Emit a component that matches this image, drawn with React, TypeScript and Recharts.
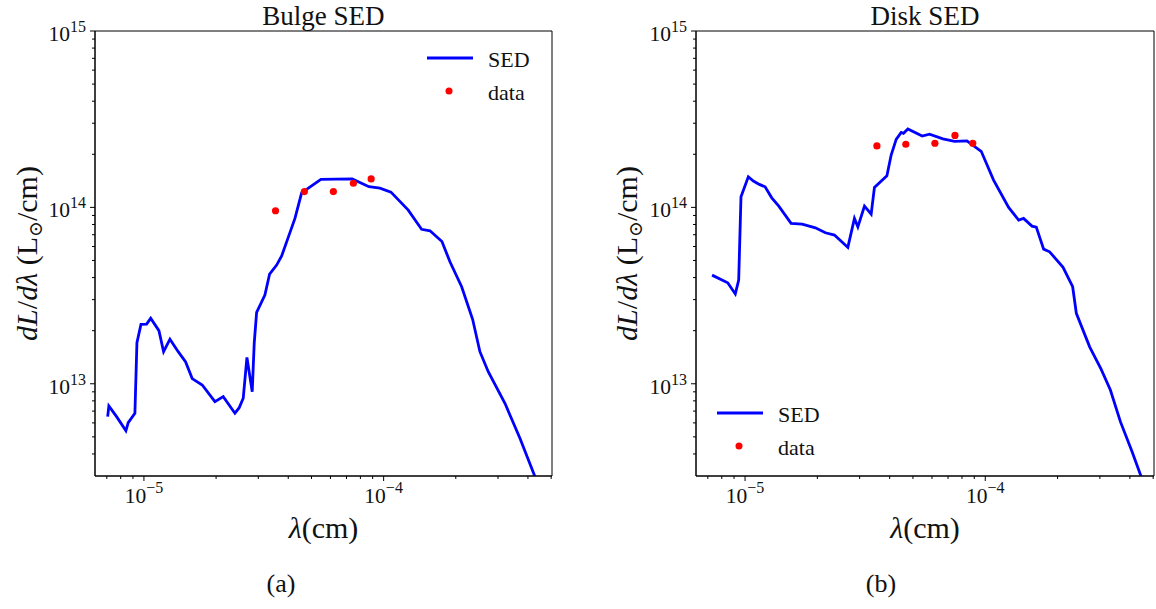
import React from 'react';
import { ComposedChart, Line, Scatter, XAxis, YAxis, ReferenceArea, Legend, Label } from 'recharts';

const FONT = '"Liberation Serif", "DejaVu Serif", serif';
const H = 609;

// wavelength (cm) and dL/dlambda (Lsun/cm)
const bulgeLambda = [
  7.06e-6, 7.14e-6, 7.69e-6, 8.41e-6, 8.6e-6, 9.17e-6, 9.35e-6, 9.72e-6, 1.026e-5, 1.067e-5,
  1.155e-5, 1.208e-5, 1.284e-5, 1.39e-5, 1.493e-5, 1.59e-5, 1.751e-5, 1.978e-5, 2.142e-5, 2.397e-5,
  2.498e-5, 2.596e-5, 2.69e-5, 2.83e-5, 2.885e-5, 2.952e-5, 3.196e-5, 3.344e-5, 3.578e-5, 3.754e-5,
  4.0e-5, 4.266e-5, 4.549e-5, 5.474e-5, 7.396e-5, 8.684e-5, 9.65e-5, 1.073e-4, 1.267e-4, 1.44e-4,
  1.561e-4, 1.751e-4, 1.891e-4, 2.116e-4, 2.351e-4, 2.522e-4, 2.732e-4, 3.207e-4, 3.704e-4, 4.277e-4,
];
const bulgeSed = [
  6.51e12, 7.48e12, 6.51e12, 5.42e12, 6.02e12, 6.81e12, 1.71e13, 2.17e13, 2.18e13, 2.35e13,
  2.0e13, 1.52e13, 1.79e13, 1.52e13, 1.33e13, 1.07e13, 9.84e12, 7.92e12, 8.45e12, 6.81e12,
  7.32e12, 8.28e12, 1.41e13, 9.02e12, 1.7e13, 2.54e13, 3.18e13, 4.19e13, 4.71e13, 5.3e13,
  6.76e13, 8.66e13, 1.21e14, 1.44e14, 1.45e14, 1.31e14, 1.286e14, 1.22e14, 9.65e13, 7.51e13,
  7.37e13, 6.4e13, 4.92e13, 3.55e13, 2.32e13, 1.52e13, 1.17e13, 7.75e12, 4.91e12, 2.98e12,
];

const diskLambda = [
  7.29e-6, 8.47e-6, 9.11e-6, 9.41e-6, 9.62e-6, 1.032e-5, 1.083e-5, 1.147e-5, 1.212e-5, 1.292e-5,
  1.382e-5, 1.555e-5, 1.728e-5, 1.963e-5, 2.161e-5, 2.356e-5, 2.554e-5, 2.679e-5, 2.854e-5, 2.949e-5,
  3.142e-5, 3.35e-5, 3.457e-5, 3.895e-5, 4.058e-5, 4.258e-5, 4.467e-5, 4.567e-5, 4.763e-5, 5.463e-5,
  5.86e-5, 6.665e-5, 7.45e-5, 8.39e-5, 9.62e-5, 1.083e-4, 1.251e-4, 1.377e-4, 1.444e-4, 1.565e-4,
  1.631e-4, 1.75e-4, 1.853e-4, 2.108e-4, 2.311e-4, 2.394e-4, 2.72e-4, 3.035e-4, 3.318e-4, 3.652e-4,
  4.086e-4, 4.454e-4,
];
const diskSed = [
  4.13e13, 3.74e13, 3.23e13, 3.87e13, 1.148e14, 1.491e14, 1.41e14, 1.35e14, 1.308e14, 1.133e14,
  1.017e14, 8.12e13, 8.04e13, 7.66e13, 7.18e13, 6.97e13, 6.3e13, 5.93e13, 8.66e13, 7.76e13,
  1.017e14, 9.16e13, 1.298e14, 1.51e14, 1.98e14, 2.43e14, 2.66e14, 2.63e14, 2.78e14, 2.535e14,
  2.6e14, 2.448e14, 2.366e14, 2.385e14, 2.08e14, 1.428e14, 1.0e14, 8.48e13, 8.66e13, 7.83e13,
  7.73e13, 5.8e13, 5.6e13, 4.57e13, 3.55e13, 2.51e13, 1.62e13, 1.21e13, 9.22e12, 6.1e12,
  4.12e12, 2.98e12,
];

// photometric points
const photLambda = [3.54e-5, 4.67e-5, 6.17e-5, 7.48e-5, 8.87e-5];
const bulgePhot = [9.57e13, 1.23e14, 1.23e14, 1.37e14, 1.45e14];
const diskPhot = [2.23e14, 2.28e14, 2.31e14, 2.56e14, 2.31e14];

const X_DOMAIN = [6.25e-6, 5.04e-4];
const Y_DOMAIN = [3e12, 1e15];

const xTicks = [
  7e-6, 8e-6, 9e-6, 1e-5, 2e-5, 3e-5, 4e-5, 5e-5, 6e-5, 7e-5, 8e-5, 9e-5,
  1e-4, 2e-4, 3e-4, 4e-4, 5e-4,
];
const yTicks = [
  4e12, 5e12, 6e12, 7e12, 8e12, 9e12, 1e13, 2e13, 3e13, 4e13, 5e13, 6e13, 7e13, 8e13, 9e13,
  1e14, 2e14, 3e14, 4e14, 5e14, 6e14, 7e14, 8e14, 9e14, 1e15,
];

const decade = (v: number) => Math.round(Math.log10(v));
const isMajor = (v: number) => Math.abs(v / Math.pow(10, decade(v)) - 1) < 1e-6;
const fmtExp = (n: number) => (n < 0 ? '\u2212' + Math.abs(n) : String(n));

const XTick = ({ x, y, payload }: any) => {
  const v = payload.value;
  const major = isMajor(v);
  return (
    <g>
      <line x1={x} x2={x} y1={y} y2={y + (major ? 5 : 3)} stroke="#000" strokeWidth={1} />
      {major && (
        <text x={x} y={y + 27} textAnchor="middle" fontFamily={FONT} fontSize={21.5} fill="#111">
          <tspan>10</tspan>
          <tspan dy={-10} fontSize={16}>{fmtExp(decade(v))}</tspan>
        </text>
      )}
    </g>
  );
};

const YTick = ({ x, y, payload }: any) => {
  const v = payload.value;
  const major = isMajor(v);
  return (
    <g>
      <line x1={x} x2={x - (major ? 5 : 3)} y1={y} y2={y} stroke="#000" strokeWidth={1} />
      {major && (
        <text x={x - 9} y={y + 10} textAnchor="end" fontFamily={FONT} fontSize={21.5} fill="#111">
          <tspan>10</tspan>
          <tspan dy={-9} fontSize={16}>{fmtExp(decade(v))}</tspan>
        </text>
      )}
    </g>
  );
};

const XLabel = ({ viewBox }: any) => {
  const { x, y, width } = viewBox;
  return (
    <text x={x + width / 2} y={y + 62} textAnchor="middle" fontFamily={FONT} fontSize={30} fill="#111">
      <tspan fontStyle="italic">λ</tspan>
      <tspan>(cm)</tspan>
    </text>
  );
};

const YLabel = ({ viewBox }: any) => {
  const { x, y, height } = viewBox;
  const cx = x + 37;
  const cy = y + height / 2;
  return (
    <text
      x={cx}
      y={cy}
      transform={`rotate(-90, ${cx}, ${cy})`}
      textAnchor="middle"
      fontFamily={FONT}
      fontSize={30}
      fill="#111"
    >
      <tspan fontStyle="italic">dL</tspan>
      <tspan>/</tspan>
      <tspan fontStyle="italic">dλ</tspan>
      <tspan> (L</tspan>
      <tspan dy={5} fontSize={19}>⊙</tspan>
      <tspan dy={-5}>/cm)</tspan>
    </text>
  );
};

const LegendBox = ({ payload }: any) => (
  <svg width={130} height={70} style={{ display: 'block' }}>
    {(payload || []).map((entry: any, i: number) => {
      const cy = 18 + i * 33;
      return (
        <g key={entry.value}>
          {entry.type === 'line' ? (
            <line x1={7} x2={53} y1={cy} y2={cy} stroke="#0000ff" strokeWidth={2.8} />
          ) : (
            <circle cx={29} cy={cy} r={3.5} fill="#ff0000" />
          )}
          <text x={68} y={cy + 8.5} fontFamily={FONT} fontSize={22} fill="#111">
            {entry.value}
          </text>
        </g>
      );
    })}
  </svg>
);

const Dot = (p: any) => <circle cx={p.cx} cy={p.cy} r={3.6} fill="#ff0000" />;

interface PanelProps {
  left: number;
  width: number;
  yWidth: number;
  right: number;
  title: string;
  caption: string;
  lambda: number[];
  sed: number[];
  phot: number[];
  legendLeft: number;
  legendTop: number;
}

const Panel: React.FC<PanelProps> = ({
  left, width, yWidth, right, title, caption, lambda, sed, phot, legendLeft, legendTop,
}) => {
  const sedRows = lambda.map((x, i) => ({ x, y: sed[i] }));
  const photRows = photLambda.map((x, i) => ({ x, y: phot[i] }));
  const center = (yWidth + width - right) / 2;
  return (
    <div style={{ position: 'absolute', left, top: 0, width, height: H }}>
      <ComposedChart width={width} height={H} margin={{ top: 31, right, bottom: 0, left: 0 }}>
        <XAxis
          dataKey="x"
          type="number"
          scale="log"
          domain={X_DOMAIN}
          allowDataOverflow
          ticks={xTicks}
          interval={0}
          tick={<XTick />}
          tickLine={false}
          tickSize={0}
          tickMargin={0}
          height={133}
          axisLine={{ stroke: '#000', strokeWidth: 1 }}
        >
          <Label content={<XLabel />} />
        </XAxis>
        <YAxis
          type="number"
          scale="log"
          domain={Y_DOMAIN}
          allowDataOverflow
          ticks={yTicks}
          interval={0}
          tick={<YTick />}
          tickLine={false}
          tickSize={0}
          tickMargin={0}
          width={yWidth}
          axisLine={{ stroke: '#000', strokeWidth: 1 }}
        >
          <Label content={<YLabel />} />
        </YAxis>
        <ReferenceArea
          x1={X_DOMAIN[0]}
          x2={X_DOMAIN[1]}
          y1={Y_DOMAIN[0]}
          y2={Y_DOMAIN[1]}
          fill="none"
          stroke="#000"
          strokeWidth={1}
          ifOverflow="visible"
        />
        <Line
          data={sedRows}
          dataKey="y"
          name="SED"
          type="linear"
          stroke="#0000ff"
          strokeWidth={2.8}
          dot={false}
          legendType="line"
          isAnimationActive={false}
        />
        <Scatter
          data={photRows}
          dataKey="y"
          name="data"
          shape={Dot}
          legendType="circle"
          isAnimationActive={false}
        />
        <Legend
          layout="vertical"
          align="center"
          verticalAlign="middle"
          content={<LegendBox />}
          wrapperStyle={{ left: legendLeft, top: legendTop, width: 130, height: 70 }}
        />
      </ComposedChart>
      <svg
        width={width}
        height={H}
        style={{ position: 'absolute', left: 0, top: 0, pointerEvents: 'none' }}
      >
        <text x={center} y={24.5} textAnchor="middle" fontFamily={FONT} fontSize={27} fill="#111">
          {title}
        </text>
        <text x={281} y={592} textAnchor="middle" fontFamily={FONT} fontSize={26} fill="#111">
          {caption}
        </text>
      </svg>
    </div>
  );
};

export default function App() {
  return (
    <div style={{ position: 'absolute', left: 0, top: 0, width: 1156, height: H, background: '#fff' }}>
      <Panel
        left={0}
        width={578}
        yWidth={95}
        right={26}
        title="Bulge SED"
        caption="(a)"
        lambda={bulgeLambda}
        sed={bulgeSed}
        phot={bulgePhot}
        legendLeft={420}
        legendTop={40}
      />
      <Panel
        left={600}
        width={556}
        yWidth={96}
        right={2}
        title="Disk SED"
        caption="(b)"
        lambda={diskLambda}
        sed={diskSed}
        phot={diskPhot}
        legendLeft={110}
        legendTop={395}
      />
    </div>
  );
}
